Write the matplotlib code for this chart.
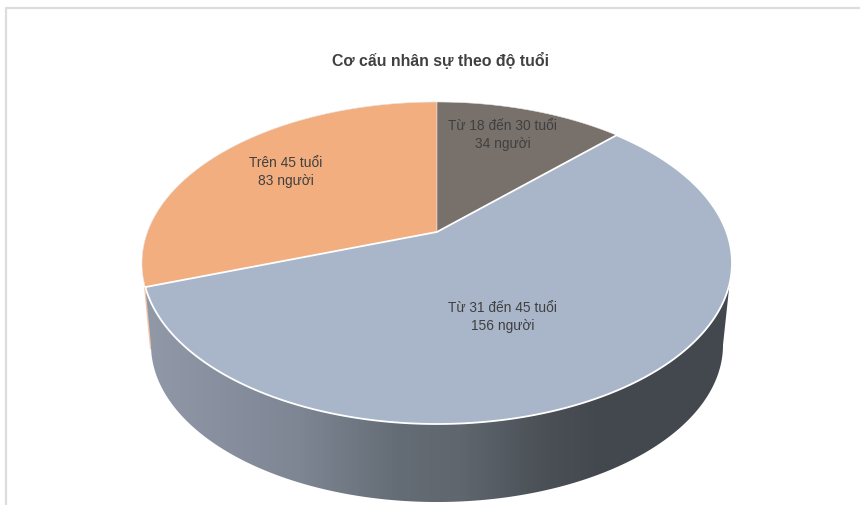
import matplotlib

matplotlib.use("Agg")
import matplotlib.pyplot as plt
import numpy as np
from matplotlib.colors import LinearSegmentedColormap
from matplotlib.patches import Polygon

plt.rcParams["font.family"] = ["Liberation Sans", "DejaVu Sans"]

title = "Cơ cấu nhân sự theo độ tuổi"
groups = ["Từ 18 đến 30 tuổi", "Từ 31 đến 45 tuổi", "Trên 45 tuổi"]
people = [34, 156, 83]
unit = "người"
colors = ["#77706b", "#a9b6c9", "#f3ae80"]
label_pos = [(503, 135), (503, 317), (286, 172)]

# top face of the pie in pixels, tilt moves the apex up from the ellipse centre
cx, cy, rx, ry = 437, 264, 295, 161
tilt = 0.193
# bottom rim of the side wall
bx, by, brx, bry = 437, 346, 286, 157


def project(angle):
    # angle in radians, clockwise from 12 o'clock
    X, Y = np.sin(angle), np.cos(angle)
    w = 1 + tilt * Y
    px = cx + rx * X * np.sqrt(1 - tilt**2) / w
    py = cy - ry * (Y + tilt) / w
    return px, py


fig = plt.figure(figsize=(8.6, 5.06), dpi=100)
ax = fig.add_axes([0, 0, 1, 1])
ax.set_xlim(0, 860)
ax.set_ylim(506, 0)
ax.axis("off")

# frame of the chart
ax.plot([6, 6, 860], [506, 9, 9], color="#dcdcdc", lw=1.6)

edges = np.cumsum([0] + people) / sum(people) * 2 * np.pi

# side wall, only the big slice shows
a = np.linspace(edges[1], edges[2], 400)
rim_x, rim_y = project(a)
keep = rim_y >= 284
rim_x, rim_y = rim_x[keep], rim_y[keep]
low = np.linspace(np.pi * 0.5, np.pi * 1.5, 300)
low_x = bx + brx * np.sin(low)
low_y = by - bry * np.cos(low)
side_pts = np.column_stack(
    [np.concatenate([rim_x, low_x[::-1]]), np.concatenate([rim_y, low_y[::-1]])]
)

# thin orange rim at the far left
ax.add_patch(Polygon([(144, 288), (149, 288), (153, 350), (150, 350)], color="#f6c6a6", lw=0))

side_cmap = LinearSegmentedColormap.from_list(
    "side",
    [
        (0.0, "#9199a9"),
        (0.26, "#7e8694"),
        (0.43, "#646c75"),
        (0.54, "#5f666d"),
        (0.68, "#4b5057"),
        (0.78, "#43484f"),
        (1.0, "#44494f"),
    ],
)
grad = ax.imshow(
    np.linspace(0, 1, 600).reshape(1, -1),
    extent=(146, 732, 510, 260),
    cmap=side_cmap,
    aspect="auto",
    zorder=1,
)
grad.set_clip_path(Polygon(side_pts, closed=True, transform=ax.transData))
ax.set_xlim(0, 860)
ax.set_ylim(506, 0)

# top face
for i in [2, 0, 1]:
    a = np.linspace(edges[i], edges[i + 1], 300)
    px, py = project(a)
    xs = np.concatenate([[cx], px])
    ys = np.concatenate([[cy - ry * tilt], py])
    if i == 1:
        ax.fill(xs, ys, facecolor=colors[i], edgecolor="white", lw=1.3, zorder=3)
    else:
        ax.fill(xs, ys, facecolor=colors[i], edgecolor="#e8e4e0", lw=0.4, zorder=2)

ax.text(440, 60, title, ha="center", va="center", fontsize=11.4, fontweight="bold", color="#404040")
for g, n, pos in zip(groups, people, label_pos):
    ax.text(
        pos[0],
        pos[1],
        f"{g}\n{n} {unit}",
        ha="center",
        va="center",
        fontsize=9.9,
        color="#404040",
        linespacing=1.45,
        zorder=4,
    )

fig.savefig("out.png", dpi=100)
